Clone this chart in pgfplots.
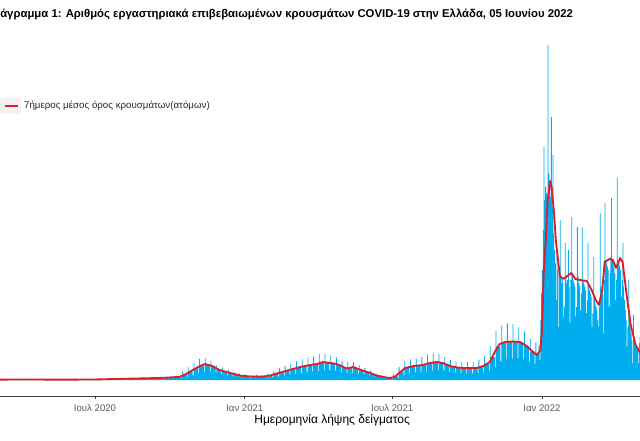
\documentclass[border=0pt]{standalone}
\usepackage{fontspec}
\setmainfont{Liberation Sans}
\usepackage{pgfplots}
\usepackage{pgfplotstable}
\pgfplotsset{compat=1.18}
\definecolor{barcol}{RGB}{0,174,239}
\definecolor{avgred}{RGB}{220,30,40}

\pgfplotstableread{
d v
65 20
75 50
85 80
95 60
105 40
115 20
125 10
135 10
145 10
155 15
165 20
175 30
185 40
195 60
205 120
212 180
218 230
224 200
230 220
236 260
242 250
248 280
254 250
260 300
266 320
272 350
277 380
282 650
283 450
288 250
289 1250
290 850
295 450
296 1900
297 1300
302 700
303 2600
304 1800
309 1000
310 3200
311 2200
316 1200
317 3300
318 2300
323 1300
324 2900
325 2000
330 1100
331 2250
332 1550
337 900
338 1900
339 1300
344 700
345 1550
346 1050
351 550
352 1250
353 830
358 450
359 1000
360 650
365 350
366 850
367 560
372 300
373 800
374 520
379 280
380 780
381 500
386 270
387 820
388 540
393 300
394 1050
395 680
400 380
401 1400
402 920
407 500
408 1750
409 1170
414 650
415 2100
416 1400
421 800
422 2450
423 1650
428 900
429 2800
430 1880
435 1050
436 3100
437 2080
442 1150
443 3350
444 2250
449 1250
450 3500
451 2370
456 1300
457 3900
458 2600
463 1450
464 3900
465 2620
470 1450
471 3700
472 2500
477 1400
478 3400
479 2300
484 1250
485 2800
486 1900
491 1050
492 2750
493 1840
498 1000
499 2700
500 1810
505 1000
506 2250
507 1500
512 850
513 1800
514 1210
519 700
520 1400
521 910
526 500
527 950
528 620
533 350
534 700
535 430
540 250
541 480
542 300
547 180
548 850
549 560
554 300
555 1950
556 1300
561 700
562 2800
563 1860
568 1000
569 3100
570 2070
575 1150
576 3250
577 2160
582 1200
583 3450
584 2290
589 1250
590 3800
591 2550
596 1400
597 4000
598 2670
603 1450
604 3900
605 2600
610 1450
611 3450
612 2300
617 1250
618 3050
619 2030
624 1100
625 2800
626 1870
631 1050
632 2700
633 1810
638 1000
639 2700
640 1800
645 1000
646 2700
647 1800
652 1000
653 3000
654 1990
659 1100
660 3600
661 2400
666 1300
667 5100
668 3450
673 1900
674 7400
675 5000
680 2800
681 8200
682 5600
687 3100
688 8500
689 5750
694 3200
695 8400
696 5750
701 3200
702 7900
703 5620
708 3100
709 7300
710 5100
715 2800
716 6200
717 4300
722 2400
723 5600
724 3900
725 3700
726 4200
727 5200
728 3000
729 9000
730 13000
731 16500
732 22500
733 35000
734 27000
735 29000
736 28000
737 24000
738 50250
739 31000
740 29500
741 27500
742 39450
743 26000
744 33750
745 22000
746 19500
747 17500
748 12000
749 19000
750 16500
751 7950
752 16000
753 24000
754 15500
755 14500
756 15000
757 9500
758 11000
759 20550
760 15500
761 14500
762 15000
763 19500
764 14000
765 8550
766 15000
767 24450
768 16000
769 15000
770 14500
771 14000
772 9500
773 10950
774 22950
775 15500
776 14500
777 14000
778 10500
779 13000
780 22950
781 15000
782 14500
783 14000
784 13500
785 10050
786 12000
787 20550
788 14500
789 13500
790 13000
791 12500
792 7950
793 10000
794 18450
795 12500
796 11500
797 11000
798 10500
799 9000
800 8000
801 11000
802 25050
803 14000
804 13500
805 13000
806 7050
807 15000
808 26550
809 18000
810 17500
811 17000
812 16500
813 11000
814 16000
815 18500
816 27300
817 18000
818 17500
819 17000
820 16000
821 12000
822 15000
823 30300
824 18000
825 17500
826 17000
827 16500
828 12500
829 15000
830 20550
831 14000
832 12000
833 10500
834 9000
835 4950
836 8000
837 15000
838 9500
839 8000
840 7000
841 6000
842 2500
843 9750
844 6000
845 5500
846 5000
847 4800
848 4500
849 2500
850 5500
851 6500
852 5000
}\bars

\pgfplotstableread{
d v
65 60
100 80
140 50
182 80
225 200
260 300
274 380
286 480
294 900
302 1500
311 2100
317 2400
326 2100
335 1500
348 1050
360 675
372 525
388 500
397 675
409 1100
425 1650
434 1950
446 2250
455 2400
462 2700
471 2550
479 2400
491 1725
499 1950
507 1575
520 1050
528 675
536 450
544 300
550 450
557 1200
563 1800
573 2100
585 2250
593 2550
602 2700
609 2550
618 2100
627 1875
636 1800
651 1800
659 2100
667 2700
673 4200
679 5400
686 5700
694 5775
704 5700
712 5100
720 4200
725 3750
729 4500
731 7500
733 15750
736 21750
738 27000
741 29850
743 28800
746 24750
748 21000
751 17700
753 15600
757 15150
762 15600
767 16050
772 15150
778 15000
786 14850
792 13500
797 12000
801 11250
805 13500
808 17700
814 18150
818 18000
822 16800
827 18300
830 17700
835 12750
840 8250
846 5250
852 4000
}\avg

\begin{document}
\begin{tikzpicture}
\begin{axis}[
  at={(0,0)}, anchor=south west,
  scale only axis, width=480pt, height=267pt,
  xmin=65.3, xmax=851.4, ymin=-2400, ymax=51000,
  axis y line=none, axis x line*=bottom, ytick=\empty,
  x axis line style={black!75, line width=0.6pt},
  xtick={182,366,547,731},
  xticklabels={Ιουλ 2020, Ιαν 2021, Ιουλ 2021, Ιαν 2022},
  tick style={black!75, line width=0.5pt},
  tick align=outside, major tick length=2.5pt,
  xticklabel style={font=\fontsize{7.2}{8}\selectfont, text=black!65, anchor=center, yshift=-6.3pt},
  xlabel={Ημερομηνία λήψης δείγματος},
  xlabel style={font=\fontsize{9}{10}\selectfont, at={(axis description cs:0.519,0)}, anchor=center, yshift=-18.5pt},
  legend style={at={(0,0.8146)}, anchor=west, draw=none, fill=none, inner sep=0pt,
    font=\fontsize{7.3}{8}\selectfont, text=black!85},
  legend cell align=left,
  legend image code/.code={\fill[black!5] (0pt,-5pt) rectangle (14.5pt,5pt);
    \draw[avgred, line width=1.4pt] (3pt,0pt) -- (12.5pt,0pt);},
]
\addplot[const plot, fill=barcol, draw=none, forget plot] table[x=d, y=v] {\bars} \closedcycle;
\addplot[avgred, line width=1.4pt, line join=round, mark=none] table[x=d, y=v] {\avg};
\addlegendentry{7ήμερος μέσος όρος κρουσμάτων(ατόμων)}
\end{axis}
\node[anchor=base west, inner sep=0pt, font=\bfseries\fontsize{8.5}{10}\selectfont] at (0pt,283.5pt)
  {άγραμμα 1: Αριθμός εργαστηριακά επιβεβαιωμένων κρουσμάτων COVID-19 στην Ελλάδα, 05 Ιουνίου 2022};
\pgfresetboundingbox
\useasboundingbox (0pt,-33pt) rectangle (480pt,297pt);
\end{tikzpicture}
\end{document}
